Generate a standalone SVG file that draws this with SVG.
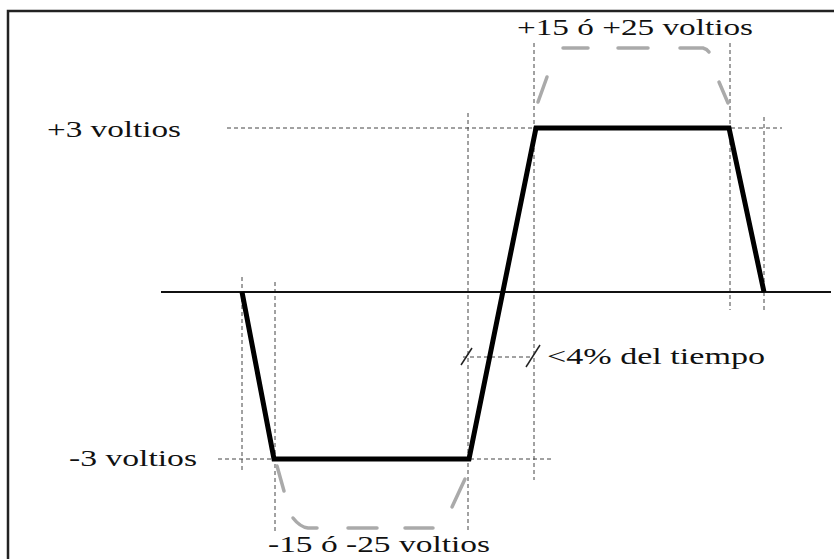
<svg xmlns="http://www.w3.org/2000/svg" width="834" height="559" viewBox="0 0 834 559">
<style>
.frame{fill:none;stroke:#222;stroke-width:2.5}
.axis{stroke:#111;stroke-width:2;fill:none}
.guide{stroke:#444;stroke-width:1;stroke-dasharray:4 3;fill:none}
.wave{stroke:#000;stroke-width:5;fill:none;stroke-linejoin:miter}
.brace{stroke:#aaa;stroke-width:3.5;fill:none;stroke-linecap:round}
.tick{stroke:#222;stroke-width:1.5}
.lbl{font-family:"Liberation Serif","Times New Roman",serif;font-size:24px;fill:#111}
</style>
<rect class="frame" x="8" y="11" width="900" height="600"/>
<g id="guides">
<line class="guide" x1="242" y1="277" x2="242" y2="473"/>
<line class="guide" x1="275" y1="282" x2="275" y2="532"/>
<line class="guide" x1="468" y1="113" x2="468" y2="532"/>
<line class="guide" x1="534" y1="43" x2="534" y2="480"/>
<line class="guide" x1="730" y1="43" x2="730" y2="310"/>
<line class="guide" x1="764" y1="117" x2="764" y2="310"/>
<line class="guide" x1="227" y1="128" x2="782" y2="128"/>
<line class="guide" x1="218" y1="459" x2="553" y2="459"/>
<line class="guide" x1="463" y1="357" x2="533" y2="357"/>
<line class="tick" x1="461" y1="365" x2="472" y2="348"/>
<line class="tick" x1="526" y1="367" x2="540" y2="345"/>
</g>
<g id="axis">
<line class="axis" x1="161" y1="292" x2="831" y2="292"/>
</g>
<g id="waveform">
<polyline class="wave" points="242,292 274,459 469,459 536,128 729,128 764,292"/>
</g>
<g id="brace-top">
<line class="brace" x1="538" y1="102" x2="547" y2="77"/>
<line class="brace" x1="563" y1="48" x2="588" y2="48"/>
<line class="brace" x1="618" y1="48" x2="648" y2="48"/>
<path class="brace" d="M680,48 L703,48 Q707,49 709,52"/>
<line class="brace" x1="719" y1="82" x2="728" y2="103"/>
</g>
<g id="brace-bottom">
<line class="brace" x1="277" y1="466" x2="284" y2="491"/>
<path class="brace" d="M293,518 Q300,527 308,528 L317,528"/>
<line class="brace" x1="348" y1="528" x2="377" y2="528"/>
<line class="brace" x1="405" y1="528" x2="433" y2="528"/>
<line class="brace" x1="465" y1="479" x2="452" y2="507"/>
</g>
<g id="labels">
<text class="lbl" x="517" y="35" textLength="236" lengthAdjust="spacingAndGlyphs">+15 ó +25 voltios</text>
<text class="lbl" x="47" y="137" textLength="134" lengthAdjust="spacingAndGlyphs">+3 voltios</text>
<text class="lbl" x="69" y="466" textLength="128" lengthAdjust="spacingAndGlyphs">-3 voltios</text>
<text class="lbl" x="547" y="364" textLength="218" lengthAdjust="spacingAndGlyphs">&lt;4% del tiempo</text>
<text class="lbl" x="268" y="552" textLength="222" lengthAdjust="spacingAndGlyphs">-15 ó -25 voltios</text>
</g>
</svg>
